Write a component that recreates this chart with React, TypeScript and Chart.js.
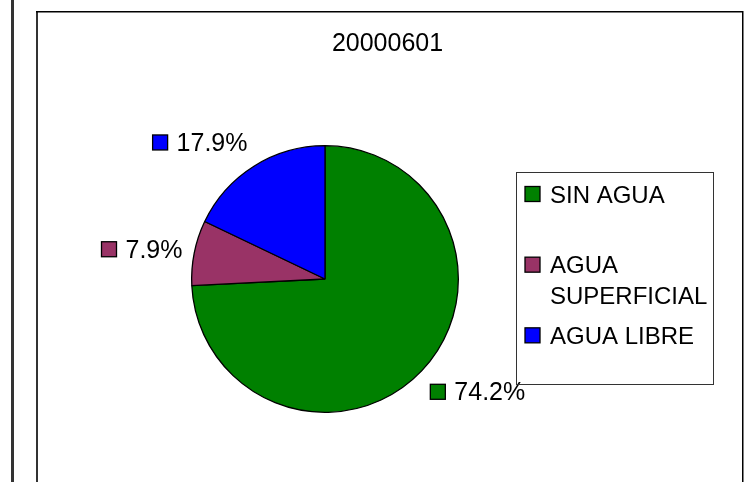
import React, { useEffect, useRef } from "react";
import { Chart, registerables } from "chart.js";

Chart.register(...registerables);

const TITLE = "20000601";
const CATEGORIES = ["SIN AGUA", "AGUA SUPERFICIAL", "AGUA LIBRE"];
const VALUES = [74.2, 7.9, 17.9];
const COLORS = ["#008000", "#993366", "#0000FF"];

const FONT = '"Liberation Sans", Arial, sans-serif';

function wrapText(ctx: CanvasRenderingContext2D, text: string, maxW: number): string[] {
  const words = text.split(" ");
  const lines: string[] = [];
  let cur = "";
  for (const w of words) {
    const t = cur ? cur + " " + w : w;
    if (ctx.measureText(t).width > maxW && cur) {
      lines.push(cur);
      cur = w;
    } else cur = t;
  }
  if (cur) lines.push(cur);
  return lines;
}

const decorPlugin = {
  id: "decor",
  beforeDraw(chart: any) {
    const ctx = chart.ctx as CanvasRenderingContext2D;
    const W = chart.width;
    const H = chart.height;
    ctx.save();
    ctx.fillStyle = "#ffffff";
    ctx.fillRect(0, 0, W, H);
    // left dark bar
    ctx.fillStyle = "#333333";
    ctx.fillRect(11, 0, 3, H);
    // frame
    ctx.fillStyle = "#333333";
    ctx.fillRect(36, 11, 2, H - 11);
    ctx.fillStyle = "#000000";
    ctx.fillRect(36, 11, 707, 1.5);
    ctx.fillRect(742, 11, 1.5, H - 11);
    // title
    ctx.fillStyle = "#000000";
    ctx.font = "25px " + FONT;
    ctx.textAlign = "center";
    ctx.textBaseline = "alphabetic";
    ctx.fillText(TITLE, 387.5, 51);
    ctx.restore();
  },
  afterDraw(chart: any) {
    const ctx = chart.ctx as CanvasRenderingContext2D;
    const meta = chart.getDatasetMeta(0);
    const labels: string[] = chart.data.labels;
    const data: number[] = chart.data.datasets[0].data;
    const colors: string[] = chart.data.datasets[0].backgroundColor;
    const total = data.reduce((a, b) => a + b, 0);
    ctx.save();
    // data labels
    ctx.font = "25px " + FONT;
    ctx.textBaseline = "alphabetic";
    meta.data.forEach((arc: any, i: number) => {
      const mid = (arc.startAngle + arc.endAngle) / 2;
      const c = Math.cos(mid);
      const s = Math.sin(mid);
      const R = arc.outerRadius;
      const ax = arc.x + c * (R + 12);
      const ay = arc.y + s * (R + 18);
      const txt = ((data[i] / total) * 100).toFixed(1) + "%";
      const sq = 15;
      const gap = 9;
      const tw = ctx.measureText(txt).width;
      const w = sq + gap + tw;
      const h = 17;
      let left = c >= 0 ? ax : ax - w;
      let top: number;
      if (Math.abs(s) < 0.4) top = ay - h / 2;
      else if (s > 0) top = ay;
      else top = ay - h;
      ctx.fillStyle = colors[i];
      ctx.fillRect(left, top + 1, sq, sq);
      ctx.strokeStyle = "#000000";
      ctx.lineWidth = 1.3;
      ctx.strokeRect(left, top + 1, sq, sq);
      ctx.fillStyle = "#000000";
      ctx.textAlign = "left";
      ctx.fillText(txt, left + sq + gap, top + h);
    });
    // legend box
    const bx = 516.5, by = 172.5, bw = 197, bh = 212;
    ctx.strokeStyle = "#333333";
    ctx.lineWidth = 1;
    ctx.strokeRect(bx, by, bw, bh);
    ctx.font = "24px " + FONT;
    const slot = bh / labels.length;
    labels.forEach((lab, i) => {
      const base = by + slot * i + 30;
      ctx.fillStyle = colors[i];
      ctx.fillRect(525, base - 16, 15, 15);
      ctx.strokeStyle = "#000000";
      ctx.lineWidth = 1.3;
      ctx.strokeRect(525, base - 16, 15, 15);
      const lines = wrapText(ctx, lab, bx + bw - 550 - 4);
      ctx.fillStyle = "#000000";
      ctx.textAlign = "left";
      lines.forEach((ln, j) => ctx.fillText(ln, 550, base + j * 31));
    });
    ctx.restore();
  },
};

export default function App() {
  const ref = useRef<HTMLCanvasElement | null>(null);
  useEffect(() => {
    document.body.style.margin = "0";
    const cv = ref.current!;
    const chart = new Chart(cv, {
      type: "pie",
      data: {
        labels: CATEGORIES,
        datasets: [
          {
            data: VALUES,
            backgroundColor: COLORS,
            borderColor: "#000000",
            borderWidth: 1.3,
          },
        ],
      },
      options: {
        responsive: false,
        animation: false,
        layout: { padding: { left: 191, top: 145, right: 296, bottom: 69 } },
        plugins: {
          legend: { display: false },
          title: { display: false },
          tooltip: { enabled: false },
        },
      },
      plugins: [decorPlugin],
    });
    return () => chart.destroy();
  }, []);
  return (
    <div style={{ position: "absolute", left: 0, top: 0, width: 755, height: 482 }}>
      <canvas ref={ref} width={755} height={482} style={{ display: "block" }} />
    </div>
  );
}
